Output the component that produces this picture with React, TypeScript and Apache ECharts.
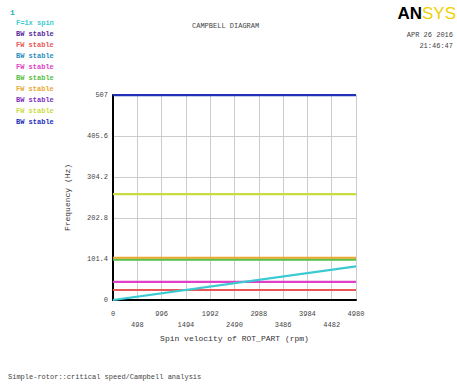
import React, { useEffect, useRef } from "react";
import * as echarts from "echarts";

const seriesNames = ["F=1x spin", "BW stable", "FW stable", "BW stable", "FW stable", "BW stable", "FW stable", "BW stable", "FW stable", "BW stable"];
const seriesColors = ["#3ccad2", "#5a2a9a", "#e85858", "#2a8fc0", "#e040c8", "#58c048", "#eaa830", "#8030c0", "#c8dc40", "#2030b8"];
const speedRange = [0, 4980];
const freqAtStart = [0, 24.7, 24.7, 45, 45, 100, 104.5, 262, 262, 506.5];
const freqAtEnd = [83, 24.7, 24.7, 45, 45, 100, 104.5, 262, 262, 506.5];
const drawOrder = [1, 3, 7, 2, 4, 5, 6, 8, 9, 0];
const yTickInterval = 101.4;
const xTickInterval = 498;

const mono = "Liberation Mono, DejaVu Sans Mono, monospace";

export default function App() {
  const ref = useRef<HTMLDivElement>(null);
  useEffect(() => {
    if (!ref.current) return;
    const chart = echarts.init(ref.current, null, { renderer: "svg" });
    const hidden = [1, 3, 7];
    const series = drawOrder.map((i) => ({
      type: "line",
      name: seriesNames[i],
      data: [
        [speedRange[0], freqAtStart[i]],
        [speedRange[1], freqAtEnd[i]],
      ],
      showSymbol: false,
      symbol: "none",
      lineStyle: { color: seriesColors[i], width: hidden.includes(i) ? 1 : 2.2 },
      itemStyle: { color: seriesColors[i] },
      z: 3,
    }));
    const legendTexts = seriesNames.map((n, i) => ({
      type: "text",
      left: 16,
      top: 19 + i * 11,
      style: { text: n, fill: seriesColors[i], font: `bold 7px ${mono}` },
    }));
    chart.setOption({
      animation: false,
      backgroundColor: "#ffffff",
      grid: { left: 113, right: 101, top: 95, bottom: 87 },
      xAxis: {
        type: "value",
        min: speedRange[0],
        max: speedRange[1],
        interval: xTickInterval,
        name: "Spin velocity of ROT_PART (rpm)",
        nameLocation: "middle",
        nameGap: 27,
        nameTextStyle: { fontFamily: mono, fontSize: 8, color: "#333" },
        axisLine: { lineStyle: { color: "#000", width: 2 } },
        axisTick: { show: false },
        axisLabel: {
          fontFamily: mono,
          fontSize: 7,
          color: "#444",
          margin: 8,
          lineHeight: 11,
          formatter: (v: number) => {
            const idx = Math.round(v / xTickInterval);
            return idx % 2 === 1 ? "\n" + v : String(v);
          },
        },
        splitLine: { show: true, lineStyle: { color: "#cccccc", width: 1 } },
      },
      yAxis: {
        type: "value",
        min: 0,
        max: 507,
        interval: yTickInterval,
        name: "Frequency (Hz)",
        nameLocation: "middle",
        nameGap: 42,
        nameTextStyle: { fontFamily: mono, fontSize: 8, color: "#333" },
        axisLine: { show: true, lineStyle: { color: "#000", width: 2 } },
        axisTick: { show: false },
        axisLabel: {
          fontFamily: mono,
          fontSize: 7,
          color: "#444",
          margin: 5,
          formatter: (v: number) => String(+v.toFixed(1)),
        },
        splitLine: { show: true, lineStyle: { color: "#cccccc", width: 1 } },
      },
      series,
      graphic: [
        { type: "text", left: 10, top: 8, style: { text: "1", fill: "#2ab0b8", font: `bold 8px ${mono}` } },
        ...legendTexts,
        { type: "text", left: 192, top: 22, style: { text: "CAMPBELL DIAGRAM", fill: "#444", font: `7px ${mono}` } },
        { type: "text", right: 4, top: 31, style: { text: "APR 26 2016", fill: "#444", font: `7px ${mono}`, align: "right" } },
        { type: "text", right: 4, top: 42, style: { text: "21:46:47", fill: "#444", font: `7px ${mono}`, align: "right" } },
        {
          type: "text",
          right: 1,
          top: 5,
          style: {
            text: "{a|AN}{b|SYS}",
            rich: {
              a: { fill: "#000", font: "bold 17px Liberation Sans, Arial, sans-serif" },
              b: { fill: "#f2d000", font: "17px Liberation Sans, Arial, sans-serif" },
            },
          },
        },
        { type: "text", left: 8, top: 373, style: { text: "Simple-rotor::critical speed/Campbell analysis", fill: "#444", font: `7px ${mono}` } },
      ],
    });
    return () => chart.dispose();
  }, []);
  return <div ref={ref} style={{ width: 457, height: 387, position: "absolute", left: 0, top: 0 }} />;
}
